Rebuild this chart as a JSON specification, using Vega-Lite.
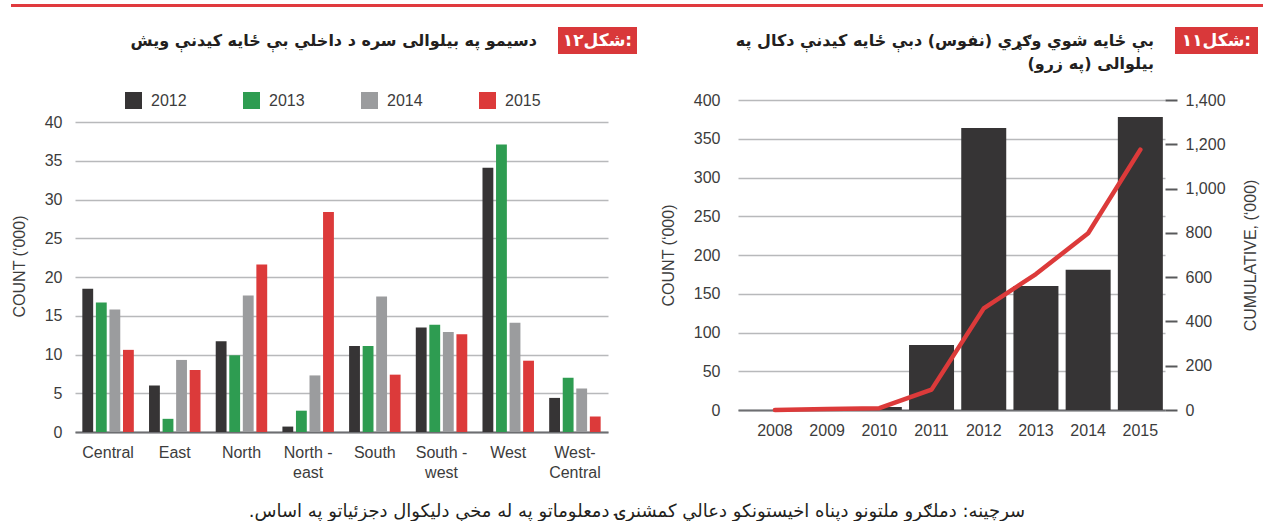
{
  "$schema": "https://vega.github.io/schema/vega-lite/v6.json",
  "padding": {"left": 9, "top": 4, "right": 0, "bottom": 0},
  "background": "white",
  "config": {
    "view": {"stroke": null},
    "font": "Liberation Sans",
    "axis": {"labelFont": "Liberation Sans", "titleFont": "Liberation Sans", "labelColor": "#3c3c3c", "titleColor": "#3c3c3c", "labelFontSize": 16, "titleFontSize": 16, "titleFontWeight": "normal"},
    "legend": {"labelFont": "Liberation Sans"}
  },
  "datasets": {
    "regions": [
      {"region": "Central", "year": "2012", "count": 18.5},
      {"region": "Central", "year": "2013", "count": 16.7},
      {"region": "Central", "year": "2014", "count": 15.8},
      {"region": "Central", "year": "2015", "count": 10.6},
      {"region": "East", "year": "2012", "count": 6.0},
      {"region": "East", "year": "2013", "count": 1.7},
      {"region": "East", "year": "2014", "count": 9.3},
      {"region": "East", "year": "2015", "count": 8.0},
      {"region": "North", "year": "2012", "count": 11.7},
      {"region": "North", "year": "2013", "count": 9.9},
      {"region": "North", "year": "2014", "count": 17.6},
      {"region": "North", "year": "2015", "count": 21.6},
      {"region": "North-east", "year": "2012", "count": 0.7},
      {"region": "North-east", "year": "2013", "count": 2.75},
      {"region": "North-east", "year": "2014", "count": 7.3},
      {"region": "North-east", "year": "2015", "count": 28.4},
      {"region": "South", "year": "2012", "count": 11.1},
      {"region": "South", "year": "2013", "count": 11.1},
      {"region": "South", "year": "2014", "count": 17.5},
      {"region": "South", "year": "2015", "count": 7.4},
      {"region": "South-west", "year": "2012", "count": 13.5},
      {"region": "South-west", "year": "2013", "count": 13.85},
      {"region": "South-west", "year": "2014", "count": 12.9},
      {"region": "South-west", "year": "2015", "count": 12.6},
      {"region": "West", "year": "2012", "count": 34.1},
      {"region": "West", "year": "2013", "count": 37.1},
      {"region": "West", "year": "2014", "count": 14.1},
      {"region": "West", "year": "2015", "count": 9.2},
      {"region": "West-Central", "year": "2012", "count": 4.4},
      {"region": "West-Central", "year": "2013", "count": 7.0},
      {"region": "West-Central", "year": "2014", "count": 5.6},
      {"region": "West-Central", "year": "2015", "count": 2.0}
    ],
    "years": [
      {"year": "2008", "count": 0, "cumulative": 0},
      {"year": "2009", "count": 1, "cumulative": 4},
      {"year": "2010", "count": 4, "cumulative": 8},
      {"year": "2011", "count": 84, "cumulative": 92},
      {"year": "2012", "count": 364, "cumulative": 459},
      {"year": "2013", "count": 160, "cumulative": 614},
      {"year": "2014", "count": 181, "cumulative": 798},
      {"year": "2015", "count": 378, "cumulative": 1176}
    ],
    "topline": [{"start": 0, "end": 1}]
  },
  "title": {
    "text": "‏سرچینه: دملګرو ملتونو دپناه اخیستونکو دعالي کمشنرۍ دمعلوماتو په له مخې دلیکوال دجزئیاتو په اساس.‏",
    "orient": "bottom", "anchor": "middle", "offset": 23,
    "font": "DejaVu Sans", "fontSize": 18, "fontWeight": "normal", "color": "#231f20"
  },
  "spacing": 20,
  "resolve": {"scale": {"color": "independent"}, "legend": {"color": "independent"}},
  "vconcat": [
    {
      "width": 1188, "height": 3,
      "data": {"name": "topline"},
      "mark": {"type": "rule", "color": "#e03a3e", "strokeWidth": 3},
      "encoding": {
        "x": {"field": "start", "type": "quantitative", "scale": {"domain": [0, 1], "range": [-64, 1188]}, "axis": null},
        "x2": {"field": "end"}
      }
    },
    {
      "spacing": 21,
      "hconcat": [
        {
          "width": 462, "height": 27,
          "data": {"values": [{"t": "‏دسیمو په بیلوالی سره د داخلي بې ځایه کیدنې ویش‏"}]},
          "mark": {"type": "text", "align": "right", "baseline": "middle", "font": "DejaVu Sans", "fontSize": 16, "fontWeight": "bold", "color": "#231f20"},
          "encoding": {"text": {"field": "t"}, "x": {"value": "width"}}
        },
        {
          "width": 79, "height": 27,
          "view": {"fill": "#d9383a", "stroke": null},
          "data": {"values": [{"t": "۱۲شکل:"}]},
          "mark": {"type": "text", "align": "center", "baseline": "middle", "font": "DejaVu Sans", "fontSize": 17, "fontWeight": "bold", "color": "#ffffff"},
          "encoding": {"text": {"field": "t"}}
        },
        {
          "width": 496, "height": 27,
          "data": {"values": [{"t": ["‏بې ځایه شوي وګړي (نفوس) دبې ځایه کیدنې دکال په‏", "‏بیلوالی (په زرو)‏"]}]},
          "mark": {"type": "text", "align": "right", "baseline": "middle", "font": "DejaVu Sans", "fontSize": 16, "fontWeight": "bold", "color": "#231f20", "lineHeight": 23},
          "encoding": {"text": {"field": "t"}, "x": {"value": "width"}}
        },
        {
          "width": 83, "height": 27,
          "view": {"fill": "#d9383a", "stroke": null},
          "data": {"values": [{"t": "۱۱شکل:"}]},
          "mark": {"type": "text", "align": "center", "baseline": "middle", "font": "DejaVu Sans", "fontSize": 17, "fontWeight": "bold", "color": "#ffffff"},
          "encoding": {"text": {"field": "t"}}
        }
      ]
    },
    {
      "spacing": 52,
      "resolve": {"scale": {"color": "independent"}, "legend": {"color": "independent"}},
      "hconcat": [
        {
          "width": 533, "height": 332,
          "data": {"name": "regions"},
          "mark": {"type": "bar"},
          "encoding": {
            "x": {
              "field": "region", "type": "nominal", "sort": null,
              "scale": {"paddingInner": 0.228, "paddingOuter": 0.11},
              "axis": {
                "title": null, "labelAngle": 0, "ticks": false,
                "domainColor": "#6d6e71", "domainWidth": 2,
                "labelPadding": 12, "labelLineHeight": 20,
                "labelExpr": "datum.value == 'North-east' ? ['North -', 'east'] : datum.value == 'South-west' ? ['South -', 'west'] : datum.value == 'West-Central' ? ['West-', 'Central'] : datum.value"
              }
            },
            "xOffset": {"field": "year", "type": "nominal", "scale": {"paddingInner": 0.2, "paddingOuter": 0}},
            "y": {
              "field": "count", "type": "quantitative",
              "scale": {"domain": [0, 42.84], "nice": false},
              "axis": {
                "title": "COUNT (‘000)", "titlePadding": 17,
                "values": [0, 5, 10, 15, 20, 25, 30, 35, 40],
                "grid": true, "gridColor": "#b8b9bb", "gridWidth": 1.5,
                "domain": false, "ticks": false, "labelPadding": 13
              }
            },
            "color": {
              "field": "year", "type": "nominal",
              "scale": {"domain": ["2012", "2013", "2014", "2015"], "range": ["#363435", "#2e9c51", "#9b9c9e", "#dc3a3a"]},
              "legend": {
                "orient": "none", "legendX": 50, "legendY": -8,
                "direction": "horizontal", "columns": 4, "title": null,
                "symbolType": "square", "symbolSize": 289, "symbolStrokeWidth": 0,
                "labelFontSize": 16, "labelColor": "#3c3c3c", "labelOffset": 9, "columnPadding": 56
              }
            }
          }
        },
        {
          "width": 427, "height": 310,
          "data": {"name": "years"},
          "layer": [
            {
              "mark": {"type": "bar", "color": "#363435"},
              "encoding": {
                "x": {
                  "field": "year", "type": "ordinal",
                  "scale": {"paddingInner": 0.138, "paddingOuter": 0.159, "align": 0.87},
                  "axis": {"title": null, "labelAngle": 0, "ticks": false, "domainColor": "#6d6e71", "domainWidth": 2, "labelPadding": 12}
                },
                "y": {
                  "field": "count", "type": "quantitative",
                  "scale": {"domain": [0, 400]},
                  "axis": {
                    "title": "COUNT (‘000)", "titlePadding": 17,
                    "values": [0, 50, 100, 150, 200, 250, 300, 350, 400],
                    "grid": true, "gridColor": "#b8b9bb", "gridWidth": 1.5,
                    "domain": false, "ticks": false, "labelPadding": 18
                  }
                }
              }
            },
            {
              "mark": {"type": "line", "color": "#dc3a3a", "strokeWidth": 4.5, "strokeCap": "round", "strokeJoin": "round"},
              "encoding": {
                "x": {"field": "year", "type": "ordinal"},
                "y": {
                  "field": "cumulative", "type": "quantitative",
                  "scale": {"domain": [0, 1400]},
                  "axis": {
                    "orient": "right", "title": "CUMULATIVE, (‘000)", "titlePadding": 17, "titleAngle": 270, "titleBaseline": "top",
                    "values": [0, 200, 400, 600, 800, 1000, 1200, 1400], "format": ",.0f",
                    "grid": false, "domain": false, "ticks": true, "tickSize": 12, "tickWidth": 2, "tickColor": "#58595b",
                    "labelPadding": 8
                  }
                }
              }
            }
          ],
          "resolve": {"scale": {"y": "independent"}, "axis": {"y": "independent"}}
        }
      ]
    }
  ]
}
